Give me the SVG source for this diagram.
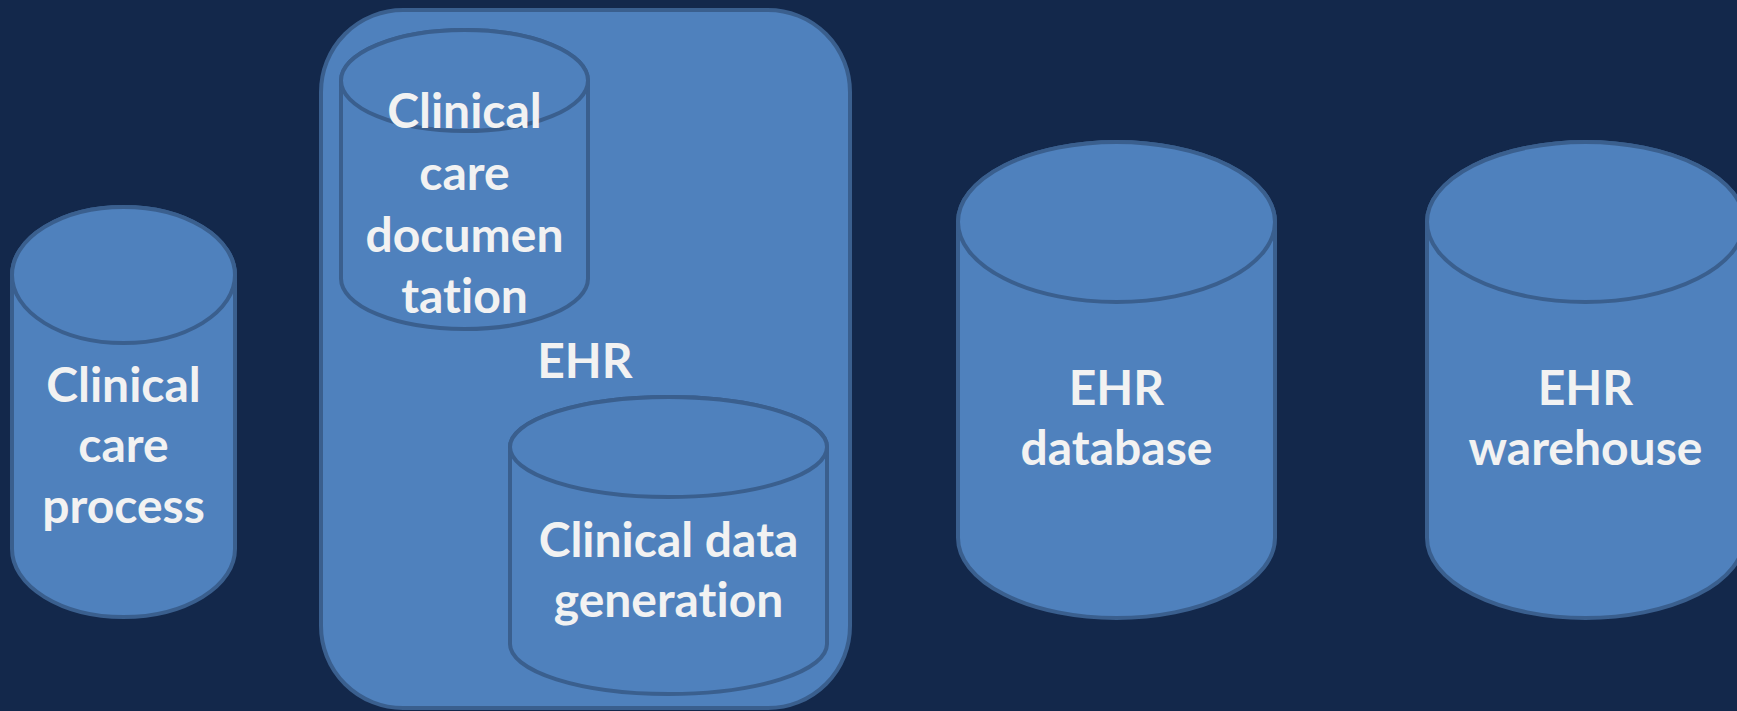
<svg xmlns="http://www.w3.org/2000/svg" width="1737" height="711" viewBox="0 0 1737 711">
  <style>
    .shape { fill: #4F81BD; stroke: #3A5F8E; stroke-width: 4; }
    .label { font-family: Lato, "Open Sans", "Liberation Sans", sans-serif; font-weight: 700; font-size: 48px; fill: #F2F2F2; text-anchor: middle; font-variant-ligatures: none; font-feature-settings: "liga" 0, "clig" 0, "dlig" 0, "calt" 0; }
  </style>
  <rect width="1737" height="711" fill="#13284B"/>

  <!-- Clinical care process -->
  <g id="clinical-care-process">
    <path class="shape" d="M12,275 V549 A111.5,68 0 0 0 235,549 V275 A111.5,68 0 0 0 12,275 Z"/>
    <ellipse class="shape" cx="123.5" cy="275" rx="111.5" ry="68"/>
    <text class="label" x="123.5" y="402">Clinical</text>
    <text class="label" x="123.5" y="462">care</text>
    <text class="label" x="123.5" y="523">process</text>
  </g>

  <!-- EHR container with its two stores -->
  <g id="ehr">
    <rect class="shape" x="321" y="10" width="529" height="698" rx="82" ry="82"/>
    <text class="label" x="585" y="378">EHR</text>
  </g>

  <g id="clinical-care-documentation">
    <path class="shape" d="M341,80.5 V278.5 A123.5,50.5 0 0 0 588,278.5 V80.5 A123.5,50.5 0 0 0 341,80.5 Z"/>
    <ellipse class="shape" cx="464.5" cy="80.5" rx="123.5" ry="50.5"/>
    <text class="label" x="464.5" y="128">Clinical</text>
    <text class="label" x="464.5" y="190">care</text>
    <text class="label" x="464.5" y="252">documen</text>
    <text class="label" x="464.5" y="313">tation</text>
  </g>

  <g id="clinical-data-generation">
    <path class="shape" d="M510,447 V644 A158.5,50 0 0 0 827,644 V447 A158.5,50 0 0 0 510,447 Z"/>
    <ellipse class="shape" cx="668.5" cy="447" rx="158.5" ry="50"/>
    <text class="label" x="668.5" y="557">Clinical data</text>
    <text class="label" x="668.5" y="617">generation</text>
  </g>

  <!-- EHR database -->
  <g id="ehr-database">
    <path class="shape" d="M958,222 V538 A158.5,80 0 0 0 1275,538 V222 A158.5,80 0 0 0 958,222 Z"/>
    <ellipse class="shape" cx="1116.5" cy="222" rx="158.5" ry="80"/>
    <text class="label" x="1116.5" y="405">EHR</text>
    <text class="label" x="1116.5" y="465">database</text>
  </g>

  <!-- EHR warehouse -->
  <g id="ehr-warehouse">
    <path class="shape" d="M1427,222 V538 A158.5,80 0 0 0 1744,538 V222 A158.5,80 0 0 0 1427,222 Z"/>
    <ellipse class="shape" cx="1585.5" cy="222" rx="158.5" ry="80"/>
    <text class="label" x="1585.5" y="405">EHR</text>
    <text class="label" x="1585.5" y="465">warehouse</text>
  </g>

  <g id="connectors"/>
</svg>
